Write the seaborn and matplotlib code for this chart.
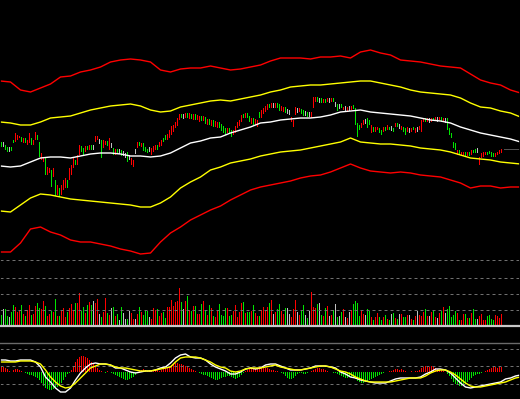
import numpy as np
import seaborn as sns
import matplotlib.pyplot as plt

# --- Data (price, volume in 100 lots, MACD) ---

# one candle per trading day, open / close
opens = [15.8, 15.5, 15.5, 15.3, 15.0, 15.3, 16.0, 15.8, 16.0, 16.2,
         16.3, 15.7, 16.2, 15.5, 15.7, 16.2, 15.5, 16.0, 16.5, 15.8,
         14.0, 13.8, 14.2, 12.5, 12.7, 13.0, 12.3, 12.0, 10.5, 11.2,
         10.5, 11.0, 11.2, 12.0, 12.0, 12.5, 13.2, 14.0, 13.5, 14.5,
         15.4, 15.2, 14.8, 15.4, 15.0, 15.5, 15.2, 15.8, 16.0, 15.8,
         16.0, 15.2, 15.5, 15.9, 15.0, 15.4, 15.2, 14.5, 15.1, 14.8,
         15.0, 14.6, 14.4, 14.8, 14.2, 13.5, 13.3, 14.8, 15.2, 15.8,
         15.3, 15.7, 15.3, 15.1, 15.0, 14.5, 14.8, 15.0, 15.5, 15.3,
         15.4, 16.2, 16.5, 16.0, 16.2, 16.5, 16.8, 17.2, 17.4, 18.0,
         18.6, 18.4, 18.2, 18.7, 18.1, 18.6, 18.0, 18.6, 18.0, 17.8,
         18.4, 17.9, 18.3, 17.5, 18.1, 17.4, 18.0, 17.3, 17.2, 17.8,
         17.6, 17.4, 17.2, 16.7, 17.2, 17.0, 16.5, 16.7, 17.2, 17.4,
         17.8, 18.6, 18.2, 18.7, 18.4, 17.6, 18.2, 17.5, 17.3, 18.8,
         18.2, 18.6, 18.8, 19.0, 19.6, 19.2, 19.5, 19.2, 19.7, 19.6,
         18.9, 18.8, 19.3, 18.9, 18.8, 17.8, 17.3, 18.5, 19.0, 18.8,
         19.1, 19.0, 18.7, 18.8, 18.6, 18.2, 19.2, 19.8, 20.3, 20.0,
         20.2, 19.7, 20.1, 19.8, 20.0, 19.8, 20.2, 19.6, 19.6, 19.4,
         19.6, 19.0, 19.2, 18.8, 19.2, 19.0, 19.5, 19.2, 17.7, 17.5,
         17.2, 17.5, 17.9, 18.2, 18.0, 16.7, 17.3, 16.8, 17.0, 17.2,
         17.0, 16.8, 17.3, 17.0, 17.3, 17.2, 17.2, 17.3, 17.7, 17.4,
         17.0, 17.3, 17.2, 16.8, 17.0, 16.8, 17.3, 16.7, 17.1, 17.0,
         16.8, 17.8, 18.2, 17.8, 18.0, 17.8, 18.2, 17.9, 18.1, 18.0,
         18.3, 17.9, 18.0, 18.2, 17.2, 16.7, 15.8, 15.7, 14.5, 15.0,
         14.4, 14.4, 14.8, 14.4, 14.8, 14.5, 15.0, 15.1, 14.9, 13.5,
         14.2, 14.3, 14.5, 14.8, 14.9, 14.8, 14.7, 14.3, 14.5, 14.6,
         14.7]
closes = [15.3, 15.5, 15.0, 14.8, 15.0, 14.9, 15.7, 16.7, 16.5, 16.4,
          15.8, 16.2, 15.7, 16.0, 16.7, 15.5, 16.0, 16.8, 16.0, 14.3,
          14.7, 14.3, 12.5, 13.3, 13.2, 11.3, 13.2, 10.4, 11.5, 10.3,
          11.5, 12.0, 12.2, 11.2, 13.2, 13.5, 14.2, 13.5, 14.5, 15.5,
          14.8, 14.5, 15.4, 15.0, 15.5, 15.0, 15.2, 16.4, 16.4, 15.8,
          14.2, 16.0, 15.9, 15.4, 16.2, 15.4, 14.5, 15.1, 14.6, 14.8,
          14.4, 14.6, 14.4, 13.8, 14.2, 14.2, 14.0, 14.8, 15.8, 15.4,
          15.7, 14.9, 14.8, 14.7, 15.0, 15.2, 15.4, 15.5, 15.0, 15.8,
          16.0, 15.8, 16.0, 16.6, 17.0, 17.4, 17.5, 17.8, 18.2, 18.6,
          18.2, 18.4, 18.7, 18.2, 18.7, 18.1, 18.6, 18.0, 18.5, 18.4,
          17.9, 18.4, 17.6, 18.1, 17.5, 18.0, 17.3, 17.9, 17.8, 17.2,
          16.9, 16.7, 16.5, 17.2, 16.6, 16.3, 17.0, 17.4, 17.8, 18.0,
          18.5, 18.2, 18.7, 18.2, 17.8, 18.2, 17.5, 18.1, 18.0, 18.2,
          19.0, 19.2, 19.4, 19.6, 19.2, 19.7, 19.5, 19.7, 19.2, 18.9,
          19.4, 19.3, 18.7, 18.9, 18.8, 18.3, 18.0, 19.3, 19.0, 19.2,
          18.6, 18.4, 18.7, 18.3, 18.6, 18.8, 20.3, 20.3, 19.8, 20.0,
          19.7, 20.1, 19.7, 20.2, 20.0, 20.2, 19.8, 19.6, 18.9, 19.4,
          19.2, 19.3, 19.2, 19.3, 19.2, 19.4, 19.1, 17.5, 16.3, 17.0,
          17.7, 18.0, 17.9, 17.2, 17.5, 17.5, 16.8, 17.3, 17.3, 16.7,
          16.5, 17.3, 16.9, 17.5, 17.0, 17.2, 16.8, 17.7, 17.3, 17.4,
          17.4, 16.8, 16.5, 17.3, 17.0, 17.2, 17.0, 17.2, 17.1, 17.4,
          18.0, 18.2, 17.8, 18.2, 18.0, 18.2, 17.9, 18.3, 18.1, 18.3,
          17.8, 18.2, 18.0, 17.0, 16.5, 16.2, 15.2, 15.0, 15.0, 14.5,
          14.8, 14.8, 14.4, 14.8, 14.4, 15.0, 14.7, 14.7, 14.9, 14.3,
          14.7, 14.8, 14.8, 14.5, 14.6, 14.3, 14.3, 14.7, 14.8, 15.0,
          15.1]

# price bands, sampled every 5 days up to the right edge
band_red_up = [21.9, 21.8, 21.0, 20.8, 21.2, 21.6, 22.3, 22.4, 22.8, 23.0,
               23.3, 23.8, 24.0, 24.1, 24.0, 23.8, 23.0, 22.8, 23.1, 23.2,
               23.2, 23.4, 23.2, 23.0, 23.1, 23.3, 23.5, 23.9, 24.2, 24.2,
               24.2, 24.1, 24.3, 24.3, 24.4, 24.2, 24.8, 25.0, 24.7, 24.5,
               24.0, 23.9, 23.8, 23.6, 23.4, 23.3, 23.2, 22.6, 22.0, 21.7,
               21.5, 21.0, 20.7]
band_yel_up = [17.8, 17.7, 17.5, 17.5, 17.8, 18.2, 18.3, 18.4, 18.7, 19.0,
               19.2, 19.4, 19.5, 19.6, 19.4, 19.0, 18.8, 18.9, 19.3, 19.5,
               19.7, 19.9, 20.0, 19.9, 20.1, 20.3, 20.5, 20.8, 21.0, 21.3,
               21.4, 21.5, 21.5, 21.6, 21.7, 21.8, 21.9, 21.9, 21.7, 21.5,
               21.3, 21.0, 20.8, 20.7, 20.6, 20.5, 20.2, 19.7, 19.3, 19.2,
               18.9, 18.7, 18.3]
band_mid = [13.4, 13.3, 13.4, 13.8, 14.2, 14.3, 14.3, 14.2, 14.4, 14.6,
            14.7, 14.7, 14.6, 14.4, 14.4, 14.3, 14.4, 14.7, 15.2, 15.7,
            15.9, 16.2, 16.3, 16.7, 17.0, 17.3, 17.7, 17.8, 18.0, 18.1,
            18.2, 18.2, 18.3, 18.5, 18.8, 18.9, 19.0, 18.8, 18.7, 18.6,
            18.5, 18.4, 18.2, 18.0, 17.9, 17.7, 17.3, 17.0, 16.7, 16.5,
            16.3, 16.1, 15.8]
band_yel_low = [8.9, 8.8, 9.5, 10.2, 10.6, 10.5, 10.3, 10.1, 10.0, 9.9,
                9.8, 9.7, 9.6, 9.5, 9.3, 9.3, 9.7, 10.3, 11.2, 11.8,
                12.3, 13.0, 13.3, 13.7, 13.9, 14.1, 14.4, 14.6, 14.8, 14.9,
                15.0, 15.2, 15.4, 15.6, 15.8, 16.2, 15.8, 15.7, 15.6, 15.6,
                15.5, 15.4, 15.2, 15.1, 15.0, 14.8, 14.5, 14.2, 14.1, 14.0,
                13.8, 13.7, 13.6]
band_red_low = [4.8, 4.8, 5.7, 7.1, 7.3, 6.8, 6.5, 6.0, 5.8, 5.8,
                5.6, 5.4, 5.1, 4.9, 4.6, 4.7, 5.8, 6.7, 7.3, 8.0,
                8.5, 9.0, 9.4, 10.0, 10.5, 11.0, 11.3, 11.5, 11.7, 11.9,
                12.2, 12.4, 12.5, 12.8, 13.2, 13.6, 13.2, 12.9, 12.8, 12.7,
                12.8, 12.7, 12.5, 12.4, 12.3, 12.0, 11.7, 11.2, 11.4, 11.4,
                11.2, 11.3, 11.3]

volume = [11, 17, 17, 10, 9, 14, 21, 19, 14, 16,
          21, 12, 10, 16, 21, 11, 12, 20, 23, 18,
          17, 25, 20, 10, 12, 15, 14, 27, 10, 10,
          16, 18, 9, 14, 18, 22, 16, 23, 23, 33,
          15, 19, 13, 21, 24, 21, 25, 23, 27, 12,
          9, 14, 28, 13, 11, 18, 19, 10, 12, 6,
          19, 13, 7, 7, 15, 13, 7, 7, 12, 19,
          14, 11, 15, 15, 9, 7, 18, 16, 17, 10,
          13, 14, 8, 19, 19, 26, 20, 24, 25, 38,
          24, 17, 25, 30, 16, 15, 20, 20, 12, 12,
          22, 25, 15, 11, 21, 18, 10, 9, 15, 22,
          11, 10, 18, 18, 10, 11, 15, 21, 9, 14,
          23, 24, 13, 14, 14, 15, 21, 13, 10, 10,
          16, 19, 16, 19, 23, 26, 12, 14, 17, 22,
          15, 12, 18, 18, 12, 9, 17, 26, 14, 11,
          15, 21, 11, 8, 15, 34, 19, 18, 22, 23,
          11, 10, 18, 20, 10, 11, 16, 22, 9, 10,
          14, 17, 9, 8, 14, 16, 22, 25, 23, 10,
          16, 12, 11, 17, 15, 9, 6, 9, 13, 9,
          6, 9, 11, 7, 6, 12, 13, 8, 7, 12,
          12, 9, 9, 11, 11, 7, 6, 10, 15, 11,
          10, 14, 17, 10, 10, 14, 15, 9, 8, 13,
          15, 19, 13, 17, 20, 9, 11, 15, 13, 6,
          6, 12, 12, 8, 8, 13, 17, 7, 7, 10,
          12, 6, 6, 10, 11, 7, 6, 11, 10, 8,
          12]
vol_levels = [16, 32, 48, 66]

macd_hist = [0.06, 0.05, 0.04, 0.03, 0.01, 0.0, 0.02, 0.03, 0.03, 0.02,
             0.01, 0.0, -0.01, -0.02, -0.03, -0.03, -0.04, -0.05, -0.06, -0.08,
             -0.11, -0.14, -0.16, -0.17, -0.18, -0.18, -0.17, -0.16, -0.15, -0.13,
             -0.11, -0.08, -0.05, -0.02, -0.01, 0.02, 0.06, 0.10, 0.13, 0.15,
             0.16, 0.16, 0.15, 0.14, 0.12, 0.10, 0.08, 0.06, 0.04, 0.02,
             0.01, 0.0, -0.01, 0.01, 0.0, -0.01, -0.02, -0.03, -0.04, -0.05,
             -0.06, -0.07, -0.08, -0.08, -0.07, -0.06, -0.05, -0.03, -0.01, 0.01,
             0.02, 0.03, 0.02, 0.01, 0.02, 0.01, 0.02, 0.03, 0.02, 0.01,
             0.02, 0.03, 0.04, 0.05, 0.06, 0.07, 0.08, 0.09, 0.09, 0.08,
             0.08, 0.07, 0.06, 0.05, 0.04, 0.03, 0.02, 0.01, 0.0, -0.01,
             -0.02, -0.03, -0.03, -0.04, -0.05, -0.06, -0.07, -0.08, -0.08, -0.07,
             -0.06, -0.05, -0.05, -0.04, -0.04, -0.05, -0.06, -0.07, -0.06, -0.05,
             -0.03, -0.01, 0.01, 0.02, 0.03, 0.04, 0.04, 0.03, 0.04, 0.05,
             0.05, 0.05, 0.04, 0.04, 0.03, 0.02, 0.02, 0.01, 0.01, 0.0,
             -0.01, -0.02, -0.04, -0.06, -0.07, -0.07, -0.06, -0.04, -0.02, -0.01,
             -0.01, -0.02, -0.02, -0.01, 0.0, 0.01, 0.02, 0.03, 0.04, 0.04,
             0.03, 0.03, 0.02, 0.01, 0.0, 0.0, -0.01, -0.01, -0.02, -0.03,
             -0.04, -0.05, -0.06, -0.06, -0.05, -0.05, -0.06, -0.07, -0.09, -0.10,
             -0.11, -0.11, -0.10, -0.09, -0.08, -0.07, -0.06, -0.05, -0.04, -0.03,
             -0.02, -0.01, 0.0, 0.0, 0.01, 0.01, 0.02, 0.03, 0.03, 0.02,
             0.03, 0.02, 0.01, 0.0, 0.0, 0.01, 0.0, 0.01, 0.01, 0.02,
             0.04, 0.05, 0.06, 0.06, 0.05, 0.06, 0.05, 0.04, 0.03, 0.02,
             0.02, 0.01, 0.0, -0.02, -0.04, -0.07, -0.10, -0.12, -0.13, -0.14,
             -0.14, -0.13, -0.12, -0.10, -0.08, -0.06, -0.04, -0.03, -0.02, -0.02,
             -0.01, 0.0, 0.01, 0.02, 0.03, 0.04, 0.05, 0.05, 0.04, 0.05,
             0.05]
# DIF / DEA sampled every 2.5 days
macd_dif = [0.12, 0.12, 0.11, 0.11, 0.12, 0.12, 0.12, 0.10, 0.05, -0.05,
            -0.10, -0.16, -0.20, -0.20, -0.16, -0.08, -0.01, 0.04, 0.08, 0.09,
            0.08, 0.08, 0.07, 0.04, 0.04, 0.02, 0.00, -0.01, 0.00, 0.01,
            0.01, 0.02, 0.04, 0.05, 0.09, 0.14, 0.17, 0.18, 0.15, 0.14,
            0.14, 0.12, 0.08, 0.05, 0.03, 0.01, -0.02, -0.02, 0.00, 0.03,
            0.04, 0.03, 0.04, 0.07, 0.08, 0.08, 0.06, 0.04, 0.02, 0.02,
            0.02, 0.03, 0.04, 0.06, 0.06, 0.06, 0.05, 0.04, 0.00, -0.02,
            -0.05, -0.06, -0.08, -0.09, -0.10, -0.11, -0.11, -0.11, -0.09, -0.07,
            -0.06, -0.06, -0.06, -0.06, -0.05, -0.02, 0.00, 0.03, 0.03, 0.02,
            -0.01, -0.06, -0.11, -0.15, -0.16, -0.15, -0.14, -0.13, -0.12, -0.11,
            -0.10, -0.07, -0.06, -0.04, -0.03]
macd_dea = [0.10, 0.10, 0.10, 0.10, 0.11, 0.11, 0.11, 0.10, 0.08, 0.02,
            -0.05, -0.10, -0.14, -0.16, -0.15, -0.11, -0.06, -0.01, 0.04, 0.06,
            0.08, 0.08, 0.07, 0.05, 0.04, 0.04, 0.03, 0.02, 0.01, 0.01,
            0.01, 0.02, 0.03, 0.04, 0.05, 0.10, 0.14, 0.15, 0.15, 0.15,
            0.14, 0.12, 0.10, 0.07, 0.05, 0.04, 0.01, 0.00, 0.01, 0.03,
            0.04, 0.04, 0.04, 0.05, 0.06, 0.07, 0.05, 0.04, 0.03, 0.02,
            0.02, 0.03, 0.04, 0.05, 0.06, 0.06, 0.05, 0.03, 0.01, 0.00,
            -0.02, -0.05, -0.07, -0.09, -0.10, -0.10, -0.10, -0.10, -0.10, -0.09,
            -0.08, -0.07, -0.06, -0.06, -0.06, -0.04, -0.01, 0.01, 0.02, 0.02,
            0.00, -0.03, -0.07, -0.11, -0.14, -0.15, -0.15, -0.14, -0.13, -0.12,
            -0.11, -0.10, -0.08, -0.06, -0.05]
macd_levels = [0.23, 0.06, -0.12]

# --- Style ---
sns.set_theme(style='dark', rc={'axes.facecolor': 'black', 'figure.facecolor': 'black',
                                'axes.edgecolor': 'black', 'axes.grid': False})

UP, DOWN, FLAT = '#ff0000', '#00e600', '#c0c0c0'
PX = 0.72  # one pixel, in points, at dpi 100

opens = np.array(opens)
closes = np.array(closes)
days = np.arange(len(closes))
colors = [UP if c > o else DOWN if c < o else FLAT for o, c in zip(opens, closes)]
lo = np.minimum(opens, closes)
hi = np.maximum(opens, closes)
flat = closes == opens
lo[flat] -= 0.25
hi[flat] += 0.25

W, H = 520, 399
fig = plt.figure(figsize=(W / 100, H / 100), dpi=100)
ax_price = fig.add_axes([0, 1 - 258 / H, 1, 258 / H])
ax_vol = fig.add_axes([0, 73 / H, 1, 68 / H])
ax_macd = fig.add_axes([0, 0, 1, 56 / H])
# two pixels per day: each day is a one-pixel column with a one-pixel gap
XLIM = (-0.75, W / 2 - 0.75)
BAR_W = 0.5

# --- Price panel: candles and bands ---
band_x = np.arange(len(band_mid)) * 5 - 0.5
for vals, col in [(band_red_up, '#ff0000'), (band_yel_up, '#ffff00'), (band_mid, '#ffffff'),
                  (band_yel_low, '#ffff00'), (band_red_low, '#ff0000')]:
    sns.lineplot(x=band_x, y=vals, ax=ax_price, color=col, linewidth=1.0, sort=False)
ax_price.bar(days, hi - lo, bottom=lo, width=BAR_W, color=colors, linewidth=0)
ax_price.hlines(closes[-1], days[-1] + 1, XLIM[1], colors='#a0a0a0',
                linestyles=(0, (1, 1)), linewidth=PX)
ax_price.set_ylim(30 - 258 / 10, 30)

# --- Volume panel ---
ax_vol.bar(np.arange(len(volume)), volume, width=BAR_W, color=colors[:len(volume)], linewidth=0)
for lvl in vol_levels:
    ax_vol.axhline(lvl, color='#707070', linewidth=PX, linestyle=(0, (3, 3)))
ax_vol.set_ylim(0, 68)
ax_vol.spines['bottom'].set_color('#c8c8c8')
ax_vol.spines['bottom'].set_linewidth(1.6)

# --- MACD panel ---
hist = np.array(macd_hist)
ax_macd.bar(np.arange(len(hist)), hist, width=BAR_W,
            color=[UP if h >= 0 else DOWN for h in hist], linewidth=0)
for lvl in macd_levels:
    ax_macd.axhline(lvl, color='#707070', linewidth=PX, linestyle=(0, (3, 3)))
line_x = np.arange(len(macd_dif)) * 2.5 - 0.5
sns.lineplot(x=line_x, y=macd_dif, ax=ax_macd, color='#ffffff', linewidth=1.0, sort=False)
sns.lineplot(x=line_x, y=macd_dea, ax=ax_macd, color='#ffff00', linewidth=1.0, sort=False)
ax_macd.set_ylim(-0.27, 0.29)
ax_macd.spines['top'].set_color('#6a6a6a')
ax_macd.spines['top'].set_linewidth(1.0)

for ax in (ax_price, ax_vol, ax_macd):
    ax.set_xlim(*XLIM)
    ax.set_xticks([])
    ax.set_yticks([])
    ax.set_xlabel('')
    ax.set_ylabel('')

fig.savefig('out.png', dpi=100, facecolor='black')
